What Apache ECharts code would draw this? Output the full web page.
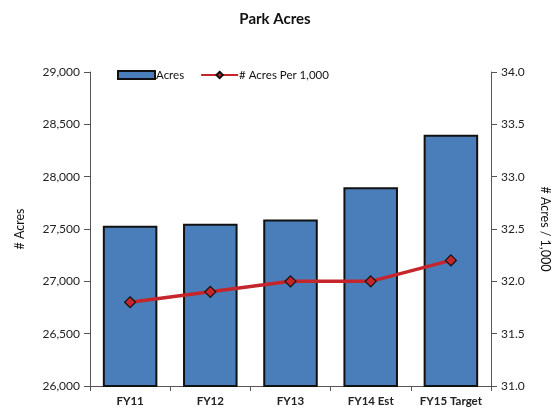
<!DOCTYPE html>
<html><head><meta charset="utf-8">
<script src="https://cdn.jsdelivr.net/npm/echarts@6/dist/echarts.min.js"></script>
<style>html,body{margin:0;padding:0;background:#fff}#c{width:553px;height:415px}</style>
</head><body><div id="c"></div>
<script>
var categories = ['FY11', 'FY12', 'FY13', 'FY14 Est', 'FY15 Target'];
var acres = [27530, 27550, 27590, 27900, 28400];
var acresPer1000 = [31.8, 31.9, 32.0, 32.0, 32.2];

var font = 'Lato';
var chart = echarts.init(document.getElementById('c'));
chart.setOption({
  backgroundColor: '#fff',
  animation: false,
  title: {
    text: 'Park Acres', left: 270, top: 7, textAlign: 'center',
    textStyle: { fontFamily: font, fontSize: 15, fontWeight: 'bold', color: '#111' }
  },
  legend: {
    left: 112, top: 64, itemGap: 16, itemWidth: 37, itemHeight: 8,
    textStyle: { fontFamily: font, fontSize: 11.5, color: '#111', padding: [0, 0, 0, -4] },
    data: [
      { name: 'Acres', icon: 'rect' },
      { name: '# Acres Per 1,000' }
    ]
  },
  grid: { left: 90, right: 62, top: 72, bottom: 29, outerBoundsMode: 'none', containLabel: false },
  xAxis: {
    type: 'category', data: categories,
    axisLine: { lineStyle: { color: '#555', width: 1 } },
    axisTick: { show: true, length: 5, lineStyle: { color: '#555' } },
    axisLabel: { interval: 0, fontFamily: font, fontSize: 11.5, fontWeight: 'bold', color: '#222', margin: 9 }
  },
  yAxis: [
    {
      type: 'value', min: 26000, max: 29000, interval: 500,
      name: '# Acres', nameLocation: 'middle', nameGap: 64,
      nameTextStyle: { fontFamily: font, fontSize: 12.5, color: '#111' },
      axisLine: { show: true, lineStyle: { color: '#555' } },
      axisTick: { show: true, length: 6, lineStyle: { color: '#555' } },
      splitLine: { show: false },
      axisLabel: {
        fontFamily: font, fontSize: 12, color: '#222', margin: 10,
        formatter: function (v) { return v.toLocaleString('en-US'); }
      }
    },
    {
      type: 'value', min: 31, max: 34, interval: 0.5, position: 'right',
      name: '# Acres / 1,000', nameLocation: 'middle', nameGap: 48, nameRotate: -90,
      nameTextStyle: { fontFamily: font, fontSize: 12.5, color: '#111' },
      axisLine: { show: true, lineStyle: { color: '#555' } },
      axisTick: { show: true, length: 6, lineStyle: { color: '#555' } },
      splitLine: { show: false },
      axisLabel: {
        fontFamily: font, fontSize: 12, color: '#222', margin: 10,
        formatter: function (v) { return v.toFixed(1); }
      }
    }
  ],
  series: [
    {
      name: 'Acres', type: 'bar', data: acres, yAxisIndex: 0,
      barCategoryGap: '32%',
      itemStyle: { color: '#4A7EBB', borderColor: '#111', borderWidth: 2 }
    },
    {
      name: '# Acres Per 1,000', type: 'line', data: acresPer1000, yAxisIndex: 1,
      symbol: 'diamond', symbolSize: 11,
      lineStyle: { color: '#C4262B', width: 3.5 },
      itemStyle: { color: '#C4262B', borderColor: '#111', borderWidth: 1.2 }
    }
  ]
});
</script></body></html>
